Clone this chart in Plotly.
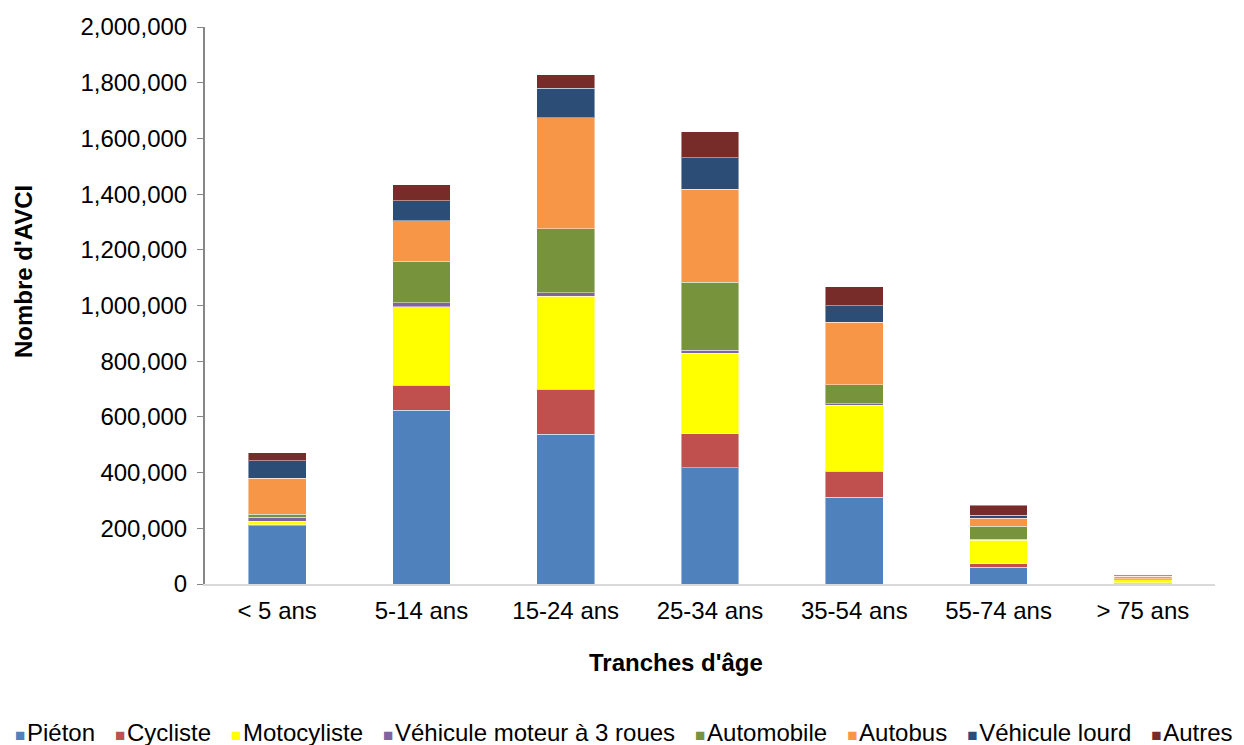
import plotly.graph_objects as go

# Age groups (x categories)
ages = ['< 5 ans', '5-14 ans', '15-24 ans', '25-34 ans', '35-54 ans', '55-74 ans', '> 75 ans']

# DALYs by road-user type
pieton      = [209000, 624000, 537000, 418000, 312000, 60000, 2000]
cycliste    = [3000,   89000,  162000, 122000, 92000,  12000, 3000]
motocyliste = [13000,  282000, 335000, 289000, 238000, 86000, 10000]
trois_roues = [14000,  14000,  12000,  10000,  5000,   3000,  1000]
automobile  = [12000,  150000, 230000, 245000, 69000,  47000, 3000]
autobus     = [128000, 146000, 399000, 334000, 224000, 29000, 8000]
lourd       = [63000,  72000,  105000, 113000, 59000,  10000, 1000]
autres      = [30000,  57000,  48000,  93000,  69000,  36000, 3000]

series = [
    ('Piéton', pieton, '#4F81BD'),
    ('Cycliste', cycliste, '#C0504D'),
    ('Motocyliste', motocyliste, '#FFFF00'),
    ('Véhicule moteur à 3 roues', trois_roues, '#8064A2'),
    ('Automobile', automobile, '#77933C'),
    ('Autobus', autobus, '#F79646'),
    ('Véhicule lourd', lourd, '#2C4D75'),
    ('Autres', autres, '#772C2A'),
]

font = 'Liberation Sans, Arial, sans-serif'
fs = 24

traces = []
for name, vals, color in series:
    traces.append(go.Bar(
        x=ages, y=vals, name=name, showlegend=False,
        marker=dict(color=color, line=dict(color='rgba(255,255,255,0.45)', width=1)),
    ))

# the page body has an 8px margin, so the figure is shrunk by that amount
OFF = 8
W, H = 1244 - OFF, 745 - OFF
L, R, T, B = 205 - OFF, 29, 27 - OFF, 161
pw = W - L - R
ph = H - T - B


def px(x):  # page pixel -> paper x
    return (x - OFF - L) / pw


def py(y):  # page pixel -> paper y
    return (H - B - (y - OFF)) / ph


# legend as one line of text with coloured squares (Excel-like compact legend)
nb = '\u00a0'
parts = []
for name, vals, color in series:
    parts.append(f"<span style='color:{color};font-size:17px'>■</span>"
                 f"<span style='font-size:6px'>{nb}</span>{name}")
legend_text = (nb * 3).join(parts)

layout = go.Layout(
    barmode='stack',
    bargap=0.6,
    width=W, height=H,
    margin=dict(l=L, r=R, t=T, b=B),
    paper_bgcolor='white', plot_bgcolor='white',
    font=dict(family=font, size=fs, color='#000000'),
    showlegend=False,
    xaxis=dict(
        showline=True, linecolor='#D9D9D9', linewidth=2,
        ticks='', showgrid=False, automargin=False,
        tickfont=dict(size=fs), ticklabelstandoff=4,
    ),
    yaxis=dict(
        range=[0, 2000000], dtick=200000, tickformat=',',
        showline=True, linecolor='#868686', linewidth=2,
        ticks='outside', ticklen=6, tickcolor='#868686',
        showgrid=False, zeroline=False, automargin=False,
        tickfont=dict(size=fs), ticklabelstandoff=5,
    ),
    annotations=[
        dict(text="<b>Tranches d'âge</b>", x=px(676), y=py(662),
             xref='paper', yref='paper', showarrow=False, font=dict(size=fs),
             xanchor='center', yanchor='middle'),
        dict(text="<b>Nombre d'AVCI</b>", x=px(23), y=py(272),
             xref='paper', yref='paper', showarrow=False, font=dict(size=fs),
             textangle=-90, xanchor='center', yanchor='middle'),
        dict(text=legend_text, x=px(624), y=py(732),
             xref='paper', yref='paper', showarrow=False, font=dict(size=fs),
             xanchor='center', yanchor='middle'),
    ],
)

fig = go.Figure(data=traces, layout=layout)
fig.write_html("out.html")
